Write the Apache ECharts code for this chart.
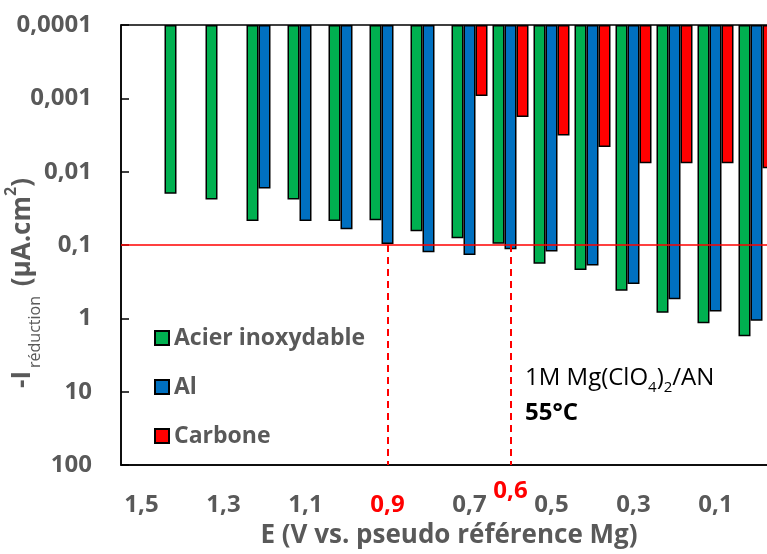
<!DOCTYPE html>
<html>
<head>
<meta charset="utf-8">
<script src="https://cdn.jsdelivr.net/npm/echarts@6/dist/echarts.min.js"></script>
<style>
  html, body { margin: 0; padding: 0; background: #fff; }
  #chart { width: 767px; height: 554px; }
</style>
</head>
<body>
<div id="chart"></div>
<script>
// potentials (V vs. pseudo ref Mg)
const potentials = [1.5, 1.4, 1.3, 1.2, 1.1, 1.0, 0.9, 0.8, 0.7, 0.6, 0.5, 0.4, 0.3, 0.2, 0.1, 0.0];
// -I reduction (µA.cm2)
const acier   = [null, 0.020, 0.024, 0.047, 0.024, 0.047, 0.046, 0.065, 0.081, 0.096, 0.18, 0.22, 0.42, 0.84, 1.17, 1.75];
const al      = [null, null, null, 0.017, 0.047, 0.061, 0.097, 0.126, 0.137, 0.114, 0.123, 0.19, 0.34, 0.55, 0.81, 1.08];
const carbone = [null, null, null, null, null, null, null, null, 0.00093, 0.0018, 0.0032, 0.0046, 0.0077, 0.0077, 0.0077, 0.009];
const yTicks  = ['0,0001', '0,001', '0,01', '0,1', '1', '10', '100'];
const threshold = 0.1;
const markedPotentials = [0.9, 0.6];

const YMIN = 0.0001;
const dec = v => v == null ? null : Math.log10(v / YMIN);   // decades below the top of the axis
const fmt = p => p.toFixed(1).replace('.', ',');
const cats = potentials.map(fmt);

const GRAY = '#595959';
const RED = '#ff0000';
const FONT = 'Open Sans';

const chart = echarts.init(document.getElementById('chart'), null, { renderer: 'canvas' });

const barStyle = color => ({ color, borderColor: '#000', borderWidth: 1.5 });

chart.setOption({
  animation: false,
  textStyle: { fontFamily: FONT },
  grid: { left: 121, top: 25, width: 656, height: 440, show: true, borderColor: '#000', borderWidth: 1.5, outerBoundsMode: 'none', containLabel: false },
  legend: {
    orient: 'vertical', left: 149, top: 321, itemWidth: 14, itemHeight: 14, itemGap: 25, itemTextGap: 9,
    icon: 'rect',
    textStyle: { fontFamily: FONT, fontSize: 23, fontWeight: 'bold', color: GRAY, lineHeight: 24 },
    data: ['Acier inoxydable', 'Al', 'Carbone']
  },
  xAxis: [{
    type: 'category', data: cats, position: 'bottom',
    axisLine: { onZero: false, lineStyle: { color: '#000', width: 1.5 } },
    axisTick: { show: false },
    axisLabel: {
      interval: 1, margin: 28,
      fontFamily: FONT, fontSize: 24, fontWeight: 'bold',
      color: (v) => v === fmt(markedPotentials[0]) ? RED : GRAY
    },
    name: 'E (V vs. pseudo référence Mg)', nameLocation: 'middle', nameGap: 58,
    nameTextStyle: { fontFamily: FONT, fontSize: 26, fontWeight: 'bold', color: GRAY }
  }, {
    type: 'category', data: cats, position: 'bottom',
    axisLine: { show: false }, axisTick: { show: false },
    axisLabel: {
      interval: (i, v) => v === fmt(markedPotentials[1]), margin: 14,
      fontFamily: FONT, fontSize: 24, fontWeight: 'bold', color: RED
    }
  }],
  yAxis: {
    type: 'value', min: 0, max: 6, interval: 1, inverse: true,
    axisLine: { show: true, lineStyle: { color: '#000', width: 1.5 } },
    axisTick: { show: true, inside: true, length: 8, lineStyle: { color: '#000', width: 1.5 } },
    splitLine: { show: false },
    axisLabel: {
      margin: 29, fontFamily: FONT, fontSize: 24, fontWeight: 'bold',
      formatter: v => yTicks[v],
      color: v => v === dec(threshold) ? RED : GRAY
    },
    name: '{m|-I}{s|réduction}{m| (µA.cm}{p|2}{m|)}',
    nameLocation: 'middle', nameRotate: 90, nameGap: 78, nameMoveOverlap: false,
    nameTextStyle: {
      padding: [0, 76, 0, 0],
      rich: {
        m: { fontFamily: FONT, fontSize: 26, fontWeight: 'bold', color: GRAY, lineHeight: 40, verticalAlign: 'middle' },
        s: { fontFamily: FONT, fontSize: 16, fontWeight: 'normal', color: GRAY, lineHeight: 40, verticalAlign: 'bottom', padding: [0, 3, 0, 3] },
        p: { fontFamily: FONT, fontSize: 16, fontWeight: 'bold', color: GRAY, lineHeight: 40, verticalAlign: 'top' }
      }
    }
  },
  series: [{
    name: 'Acier inoxydable', type: 'bar', data: acier.map(dec),
    barWidth: 12, barGap: '0%', itemStyle: barStyle('#00b050')
  }, {
    name: 'Al', type: 'bar', data: al.map(dec),
    barWidth: 12, barGap: '0%', itemStyle: barStyle('#0070c0'),
    markLine: {
      silent: true, symbol: 'none', label: { show: false },
      data: [
        { yAxis: dec(threshold), lineStyle: { color: RED, width: 1.5, type: 'solid' } },
        ...markedPotentials.map(p => [
          { coord: [fmt(p), dec(threshold)], lineStyle: { color: RED, width: 2, type: [7, 5] } },
          { coord: [fmt(p), yTicks.length - 1] }
        ])
      ]
    }
  }, {
    name: 'Carbone', type: 'bar', data: carbone.map(dec),
    barWidth: 12, barGap: '0%', itemStyle: barStyle(RED)
  }],
  graphic: [{
    type: 'text', left: 525, top: 366,
    style: {
      text: '{n|1M Mg(ClO}{s|4}{n|)}{s|2}{n|/AN}\n{b|55°C}',
      rich: {
        n: { fontFamily: FONT, fontSize: 24, color: '#262626', lineHeight: 35, verticalAlign: 'middle' },
        s: { fontFamily: FONT, fontSize: 15, color: '#262626', lineHeight: 35, verticalAlign: 'bottom' },
        b: { fontFamily: FONT, fontSize: 24, fontWeight: 'bold', color: '#262626', lineHeight: 35 }
      }
    }
  }]
});
</script>
</body>
</html>
